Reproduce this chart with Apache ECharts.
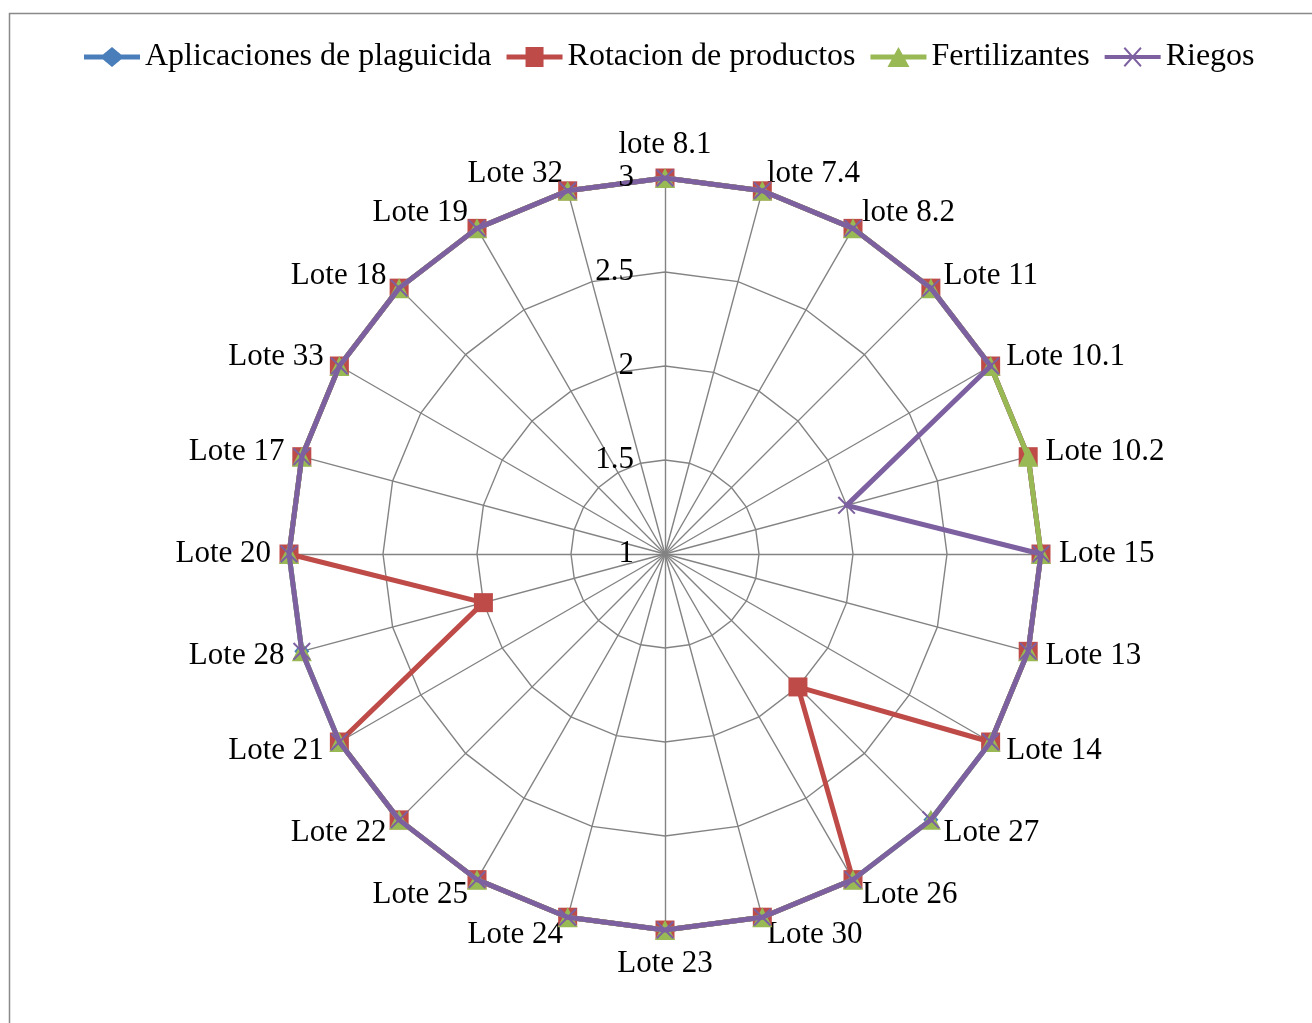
<!DOCTYPE html>
<html>
<head>
<meta charset="utf-8">
<script src="https://cdn.jsdelivr.net/npm/echarts@6/dist/echarts.min.js"></script>
<style>
html,body{margin:0;padding:0;background:#fff;}
#chart{width:1312px;height:1023px;}
</style>
</head>
<body>
<div id="chart"></div>
<script>
// Categories in visual clockwise order, starting at the top
const categories = ['lote 8.1','lote 7.4','lote 8.2','Lote 11','Lote 10.1','Lote 10.2','Lote 15','Lote 13','Lote 14','Lote 27','Lote 26','Lote 30','Lote 23','Lote 24','Lote 25','Lote 22','Lote 21','Lote 28','Lote 20','Lote 17','Lote 33','Lote 18','Lote 19','Lote 32'];
const aplicaciones  = [3,3,3,3,3,3,3,3,3,3,3,3,3,3,3,3,3,3,3,3,3,3,3,3];
const rotacion      = [3,3,3,3,3,3,3,3,3,2,3,3,3,3,3,3,3,2,3,3,3,3,3,3];
const fertilizantes = [3,3,3,3,3,3,3,3,3,3,3,3,3,3,3,3,3,3,3,3,3,3,3,3];
const riegos        = [3,3,3,3,3,2,3,3,3,3,3,3,3,3,3,3,3,3,3,3,3,3,3,3];
const tickValues = [1, 1.5, 2, 2.5, 3];
const seriesNames = ['Aplicaciones de plaguicida','Rotacion de productos','Fertilizantes','Riegos'];

// ECharts radar lays indicators counter-clockwise; reorder to get clockwise
function cw(arr){ return [arr[0]].concat(arr.slice(1).reverse()); }

const FONT = '"Liberation Serif","Times New Roman",serif';
const colors = ['#4A7EBB','#BE4B48','#98B954','#7D60A0'];

const xPath = 'path://M1.6,0 L10,8.4 L18.4,0 L20,1.6 L11.6,10 L20,18.4 L18.4,20 L10,11.6 L1.6,20 L0,18.4 L8.4,10 L0,1.6 Z';
const legendIcons = [
  'path://M0,7.5 L19,7.5 L28,0 L37,7.5 L56,7.5 L56,12.5 L37,12.5 L28,20 L19,12.5 L0,12.5 Z',
  'path://M0,7.5 L19,7.5 L19,0 L37,0 L37,7.5 L56,7.5 L56,12.5 L37,12.5 L37,20 L19,20 L19,12.5 L0,12.5 Z',
  'path://M0,7.5 L56,7.5 L56,12.5 L0,12.5 Z M28,0 L39,20 L17,20 Z',
  'path://M0,8 L56,8 L56,12 L0,12 Z M20.4,0 L37,18.6 L35.6,20 L19,1.4 Z M35.6,0 L37,1.4 L20.4,20 L19,18.6 Z'
];

const cats = cw(categories);
const vMin = tickValues[0], vMax = tickValues[tickValues.length - 1];
const indicators = cats.map(c => ({ name: c, min: vMin, max: vMax }));

const valuesList = [aplicaciones, rotacion, fertilizantes, riegos];
const symbols = ['diamond','rect','triangle', xPath];
const symbolSizes = [[15,17],19,20,18];

const series = valuesList.map((vals, k) => ({
  type: 'radar',
  name: seriesNames[k],
  symbol: symbols[k],
  symbolSize: symbolSizes[k],
  z: 2 + k,
  lineStyle: { color: colors[k], width: 5 },
  itemStyle: { color: colors[k] },
  emphasis: { disabled: true },
  data: [{ name: seriesNames[k], value: cw(vals) }]
}));

const chart = echarts.init(document.getElementById('chart'));
chart.setOption({
  backgroundColor: '#fff',
  animation: false,
  graphic: [{
    type: 'rect', silent: true,
    shape: { x: 9.5, y: 13.5, width: 1400, height: 1100 },
    style: { fill: null, stroke: '#898989', lineWidth: 1.5 }
  }],
  legend: {
    top: 36,
    left: 79,
    itemWidth: 56,
    itemHeight: 20,
    itemGap: 15,
    textStyle: { fontFamily: FONT, fontSize: 32, color: '#000' },
    data: seriesNames.map((n, k) => ({ name: n, icon: legendIcons[k], itemStyle: { color: colors[k] } }))
  },
  radar: {
    center: [665, 554],
    radius: 376,
    startAngle: 90,
    shape: 'polygon',
    splitNumber: tickValues.length - 1,
    indicator: indicators,
    nameGap: 18,
    axisName: { color: '#000', fontFamily: FONT, fontSize: 31 },
    axisLine: { show: true, lineStyle: { color: '#838383', width: 1.4 } },
    splitLine: { show: true, lineStyle: { color: '#838383', width: 1.4 } },
    splitArea: { show: false },
    axisTick: { show: false },
    axisLabel: { show: false }
  },
  // polar system used only to print the value tick labels above the series
  polar: { center: [665, 554], radius: 376, z: 20 },
  angleAxis: { type: 'value', startAngle: 90, show: false, z: 20 },
  radiusAxis: {
    type: 'value',
    min: vMin, max: vMax, interval: tickValues[1] - tickValues[0],
    z: 20,
    axisLine: { show: false },
    axisTick: { show: false },
    splitLine: { show: false },
    axisLabel: {
      margin: 31,
      color: '#000',
      fontFamily: FONT,
      fontSize: 31,
      formatter: v => String(v)
    }
  },
  series: series
});
</script>
</body>
</html>
